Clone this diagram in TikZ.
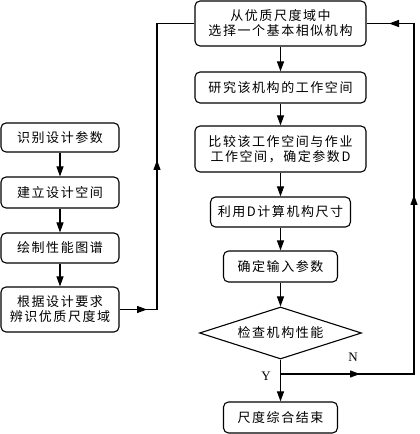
\documentclass[tikz,border=0pt]{standalone}
\usepackage{fontspec}
\newfontfamily\cjk[LetterSpace=12]{Noto Sans CJK SC}
\setmainfont{Liberation Serif}
\usetikzlibrary{arrows.meta,shapes.geometric}
\begin{document}
\begin{tikzpicture}[x=1pt,y=1pt,
  box/.style={draw,line width=1.1pt,rounded corners=5pt,font=\cjk\fontsize{13}{15}\selectfont,align=center,inner sep=0pt},
  dia/.style={draw,line width=1.1pt,diamond,aspect=3.1,font=\cjk\fontsize{13}{15}\selectfont,inner sep=0pt},
  ln/.style={line width=1.1pt},
  arr/.style={line width=1.1pt,-{Triangle[length=10pt,width=7pt]}},
  lbl/.style={font=\fontsize{13}{15}\selectfont}]
\useasboundingbox (0,0) rectangle (420,434);
% left column
\node[box,minimum width=118,minimum height=29] (b1) at (60,296.5) {识别设计参数};
\node[box,minimum width=118,minimum height=31] (b2) at (60,241.5) {建立设计空间};
\node[box,minimum width=118,minimum height=30] (b3) at (60,186) {绘制性能图谱};
\node[box,minimum width=118,minimum height=45] (b4) at (60,124.5) {根据设计要求\\[0pt]辨识优质尺度域};
% right column
\node[box,minimum width=171,minimum height=45] (r1) at (280.5,410.5) {从优质尺度域中\\[0pt]选择一个基本相似机构};
\node[box,minimum width=171,minimum height=31] (r2) at (280.5,346.5) {研究该机构的工作空间};
\node[box,minimum width=171,minimum height=46] (r3) at (280.5,285) {比较该工作空间与作业\\[0pt]工作空间，确定参数D};
\node[box,minimum width=140,minimum height=30] (r4) at (280.5,222) {利用D计算机构尺寸};
\node[box,minimum width=114,minimum height=31] (r5) at (280.5,167.5) {确定输入参数};
\node[dia,minimum width=162,minimum height=52] (d) at (280.5,101) {检查机构性能};
\node[box,minimum width=114,minimum height=31] (r6) at (280.5,16.5) {尺度综合结束};
% coordinates
\coordinate (j) at (280.5,60);
\coordinate (lc) at (157,124.5);
\coordinate (lt) at (157,410.5);
\coordinate (rc) at (414,60);
\coordinate (rt) at (414,410.5);
\coordinate (la) at (147,124.5);
\coordinate (lu) at (157,274);
\coordinate (na) at (360,60);
\coordinate (ru) at (414,239);
\coordinate (ta) at (389,410.5);
% left arrows
\draw[arr] (b1) -- (b2);
\draw[arr] (b2) -- (b3);
\draw[arr] (b3) -- (b4);
% right arrows
\draw[arr] (r1) -- (r2);
\draw[arr] (r2) -- (r3);
\draw[arr] (r3) -- (r4);
\draw[arr] (r4) -- (r5);
\draw[arr] (r5) -- (d);
\draw[ln] (d.south) -- (j);
\draw[arr] (j) -- (r6);
% left-to-right connector
\draw[ln] (b4.east) -- (lc) -- (lt) -- (r1.west);
\draw[arr] (b4.east) -- (la);
\draw[arr] (lc) -- (lu);
% feedback loop
\draw[ln] (j) -- (rc) -- (rt) -- (r1.east);
\draw[arr] (j) -- (na);
\draw[arr] (rc) -- (ru);
\draw[arr] (rt) -- (ta);
% labels
\node[lbl] (ly) at (266,58) {Y};
\node[lbl] (ln) at (353,77) {N};
\end{tikzpicture}
\end{document}
